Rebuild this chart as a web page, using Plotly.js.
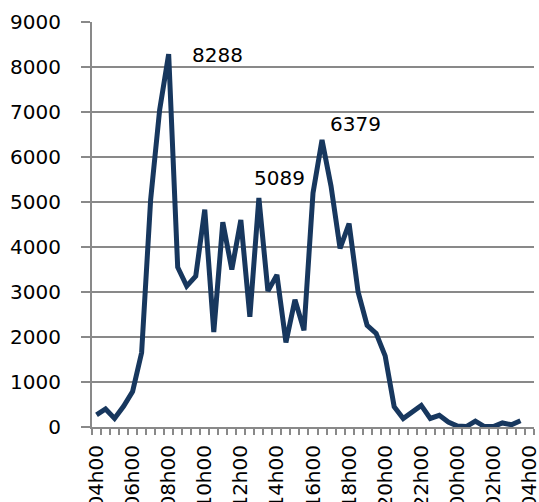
<!DOCTYPE html>
<html>
<head>
<meta charset="utf-8">
<script src="https://cdn.plot.ly/plotly-3.0.1.min.js"></script>
<style>html,body{margin:0;padding:0;background:#fff;}#chart{width:539px;height:502px;}</style>
</head>
<body>
<div id="chart"></div>
<script>
const times = ["04h00","04h30","05h00","05h30","06h00","06h30","07h00","07h30","08h00","08h30",
  "09h00","09h30","10h00","10h30","11h00","11h30","12h00","12h30","13h00","13h30",
  "14h00","14h30","15h00","15h30","16h00","16h30","17h00","17h30","18h00","18h30",
  "19h00","19h30","20h00","20h30","21h00","21h30","22h00","22h30","23h00","23h30",
  "00h00","00h30","01h00","01h30","02h00","02h30","03h00","03h30","04h00 "];
const values = [270, 400, 190, 460, 790, 1650, 5050, 7050, 8288, 3550,
  3130, 3350, 4830, 2110, 4550, 3500, 4600, 2450, 5089, 3020,
  3380, 1880, 2830, 2150, 5200, 6379, 5350, 3970, 4520, 3000,
  2260, 2080, 1580, 450, 190, 330, 480, 190, 260, 110,
  20, 10, 130, 10, 10, 90, 50, 140, null];
const tickLabels = ["04h00","","","","06h00","","","","08h00","","","","10h00","","","","12h00","","","",
  "14h00","","","","16h00","","","","18h00","","","","20h00","","","","22h00","","","",
  "00h00","","","","02h00","","","","04h00"];
const labelIdx = [8, 18, 25];
const labelText = ["8288", "5089", "6379"];
const labelShift = [[49, -1], [21, 20], [33, 16]];

const font = {family: "DejaVu Sans", size: 20, color: "#000"};
const grey = "#898989";

const trace = {
  type: "scatter", mode: "lines",
  x: times, y: values,
  line: {color: "#17375E", width: 5, shape: "linear"},
  connectgaps: false, hoverinfo: "skip"
};

const annotations = labelIdx.map((i, k) => ({
  x: times[i], y: values[i], text: labelText[k], showarrow: false,
  xshift: labelShift[k][0], yshift: labelShift[k][1],
  font: font, xanchor: "center", yanchor: "middle"
}));

const layout = {
  width: 539, height: 502,
  margin: {l: 92, r: 5, t: 22, b: 75, pad: 0},
  paper_bgcolor: "#fff", plot_bgcolor: "#fff",
  showlegend: false,
  font: font,
  xaxis: {
    type: "category", categoryorder: "array", categoryarray: times,
    range: [-0.5, times.length - 0.5],
    tickmode: "array", tickvals: times, ticktext: tickLabels,
    tickson: "boundaries", ticks: "outside", ticklen: 6, tickwidth: 2, tickcolor: grey,
    tickangle: -90, tickfont: font,
    showgrid: false, zeroline: false,
    showline: true, linecolor: grey, linewidth: 2,
    ticklabelstandoff: 8, fixedrange: true
  },
  yaxis: {
    range: [0, 9000], dtick: 1000, tick0: 0,
    ticks: "outside", ticklen: 9, tickwidth: 2, tickcolor: grey,
    showgrid: true, gridcolor: grey, gridwidth: 2,
    zeroline: false, showline: true, linecolor: grey, linewidth: 2,
    tickfont: font, ticklabelstandoff: 16, fixedrange: true
  },
  annotations: annotations
};

Plotly.newPlot("chart", [trace], layout, {staticPlot: true, displayModeBar: false});
</script>
</body>
</html>
